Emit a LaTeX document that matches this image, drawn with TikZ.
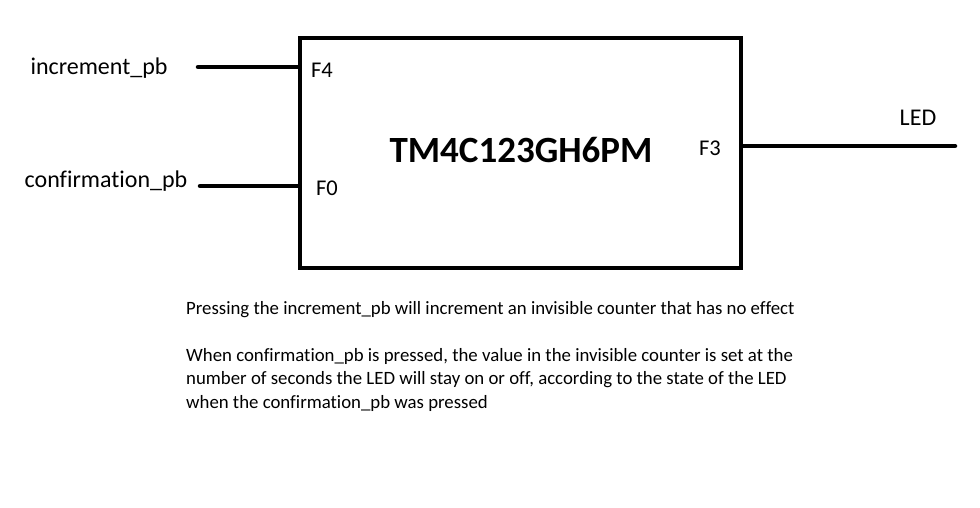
\documentclass[tikz,border=0pt]{standalone}
\usepackage{fontspec}
\setmainfont{Carlito}[Ligatures=NoCommon]
\begin{document}
\begin{tikzpicture}[x=1pt,y=-1pt,
  lbl/.style={inner sep=0pt,font=\fontsize{24}{28}\selectfont},
  pin/.style={inner sep=0pt,font=\fontsize{22.5}{26}\selectfont},
  wire/.style={line width=4.5pt,line cap=round},
  chip/.style={draw,line width=4.5pt,minimum width=441pt,minimum height=230pt,inner sep=0pt}]
\useasboundingbox[fill=white] (0,0) rectangle (980,507);
\node[chip] (box) at (520.5,153) {};
\node[inner sep=0pt,font=\fontsize{37}{40}\selectfont\bfseries] (title) at (521,150) {TM4C123GH6PM};
\node[pin] (f4) at (322,70) {F4};
\node[pin] (f0) at (327,188) {F0};
\node[pin] (f3) at (710,148) {F3};
\node[lbl] (inc) at (99,68) {increment\_pb};
\node[lbl] (conf) at (106,181) {confirmation\_pb};
\node[lbl] (led) at (918,118) {LED};
\coordinate (a1) at (198,67);
\coordinate (a2) at (200,186);
\coordinate (a3) at (955,146);
\draw[wire] (a1) -- (a1 -| box.west);
\draw[wire] (a2) -- (a2 -| box.west);
\draw[wire] (a3 -| box.east) -- (a3);
\node[anchor=north west,inner sep=0pt,align=left,font=\fontsize{18.8}{23.5}\selectfont] (desc) at (186,301)
{Pressing the increment\_pb will increment an invisible counter that has no effect\\[23.5pt]
When confirmation\_pb is pressed, the value in the invisible counter is set at the\\
number of seconds the LED will stay on or off, according to the state of the LED\\
when the confirmation\_pb was pressed};
\end{tikzpicture}
\end{document}
